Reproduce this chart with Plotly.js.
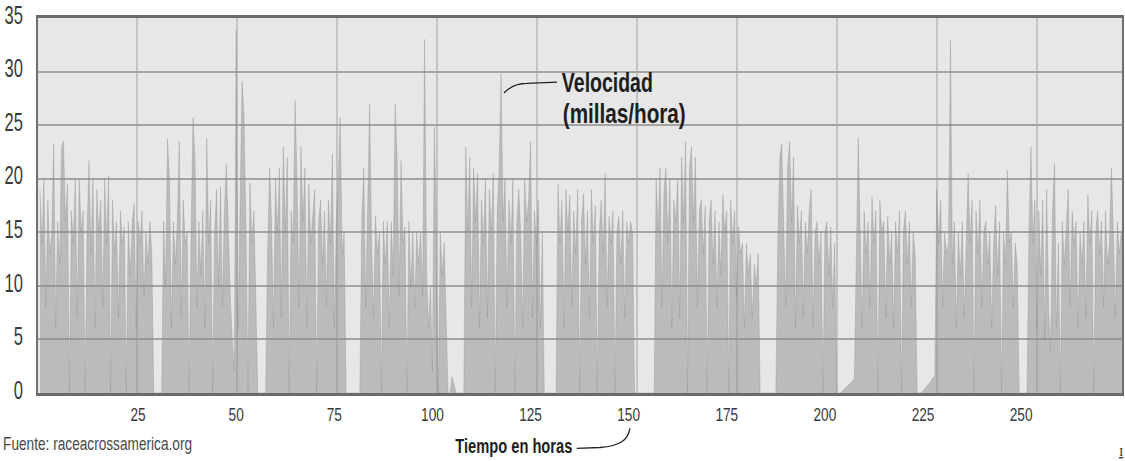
<!DOCTYPE html>
<html>
<head>
<meta charset="utf-8">
<script src="https://cdn.plot.ly/plotly-3.0.1.min.js"></script>
<style>
  html, body { margin: 0; padding: 0; background: #ffffff; }
  #chart { width: 1125px; height: 461px; }
</style>
</head>
<body>
<div id="chart"></div>
<script>
const ride1 = [19,14,20,8,18,13,15,23.3,6,16, 12,23,23.5,16,19.5,0,17,14,20,7, 20,15,17,0,15,21.7,13,20,6,19, 15,18,8,20,14,20.3,0,18,13,16, 7,17,14,15.5,0,16,11,16,17.7,6, 16,14,17,9,15,12,16,13];
const stop1 = [0,0,0,0,0];
const ride2 = [16,10,23.7,20,6,16,12,16,23.5,7, 18,14,15,0,15,25.7,22,8,16,11, 17,6,23.8,14,18,0,15,19,10,19.2, 8,17,21.4,14,9,5,2,33.8,6,18, 29.1,25.7,15,0,19.6,14,17,9];
const stop2 = [0,0,0,0,0];
const ride3 = [13,21,16,6,20,15,21,7,23,15, 22,0,17,14,27.3,20,8,23,16,21, 6,19.5,14,17,19,0,16,18,12,17, 8,18,14,22.3,6,16,20,25.7,13,15];
const stop3 = [0,0,0,0,0,0,0,0];
const ride4 = [16,21,8,18,27,14,7,16.5,13,15, 0,16,12,16,6,16,11,27,22,9, 21.7,14,15.5,0,16,10,15,8,15,12, 15,9,33,11.7,6,10,2,24.8,15,0, 15,11,14,7];
const stop4 = [0,0,1.5,0.8,0,0,0,0,0];
const ride5 = [23,15,22,8,21,16,20.5,6,18,14, 20,7,19,15,20.5,0,17,21,29.8,16, 20,8,18,14,20,0,16,19,15,6, 20,16,18,23.5,7,17,14,18,6,15];
const stop5 = [0,0,0,0,0,0,0];
const ride6 = [19.5,14,18,6,19,15,18.5,8,17,13, 19,0,16,18.6,12,17,7,19,14,17.5, 0,15,18,13,20.5,8,16.5,14,17,0, 15,16.5,12,17,7,16,14,16,15];
const stop6 = [0,0,0,0,0,0,0,0,0,0,0];
const ride7 = [20,15,21,8,19,21,14,20,6,18, 16,20,7,22,16,23.5,0,21,23,16, 22,8,17,18,13,17.5,0,16,18,12, 17,8,16,11,18.5,15,17,0,18,14, 17,9,15.5,13,14,6,14,11,13,7, 12,10,13];
const stop7 = [0,0,0,0,0,0,0,0,0];
const ride8 = [14,22,23.3,16,8,21,23.5,16,22,6, 17.5,14,17,7,16,13,17,19,6,15, 16,12,15,0,15,16,11,15.5,8,14];
const stop8 = [0,0,0,0.2,0.4,0.6,0.8,1,1.1,1.3];
const ride9 = [12,23.8,15,6,17,13,16,8,18.3,14, 17,0,18,15,16,7,16.5,12,15,6, 16,13,17,0,15,17,12,16,8,15, 13];
const stop9 = [0,0,0,0.2,0.4,0.6,0.9,1.1,1.4,1.6];
const ride10 = [19,14,18,8,15,13,14,32.9,12,16, 6,15,11,16,7,14,20.5,14,18,0, 17,13,18,8,15,16,12,15,6,14, 17.5,11,16,0,15,12,20.8,14,15,8, 14,12];
const stop10 = [0,0,0,0,0];
const ride11 = [15,23,14,18,6,17,11,18,5,19, 8,4,17,21.4,6,14,0,16,12,15, 19,8,17,14,16,6,15,12,16,7, 18.5,14,17,0,15,17,13,16,8,17, 12,14,21,15,7,16,13,15,13];

const speed = [].concat(ride1, stop1, ride2, stop2, ride3, stop3, ride4, stop4,
  ride5, stop5, ride6, stop6, ride7, stop7, ride8, stop8, ride9, stop9,
  ride10, stop10, ride11);
const sampleStep = 0.5; // hours between samples
const hours = speed.map((_, i) => i * sampleStep);

const xTickVals = [25, 50, 75, 100, 125, 150, 175, 200, 225, 250];
const yTickVals = [0, 5, 10, 15, 20, 25, 30, 35];

const labelSpeed1 = 'Velocidad';
const labelSpeed2 = '(millas/hora)';
const labelTime = 'Tiempo en horas';
const labelSource = 'Fuente: raceacrossamerica.org';

const sans = 'Liberation Sans, Arial, sans-serif';

// vertical guide lines of the original picture (every 100 px of the plot)
const plotLeft = 38, plotWidth = 1084;
const vShapes = [];
for (let k = 0; k < 10; k++) {
  const xp = (99 + 100 * k) / plotWidth;
  vShapes.push({type: 'line', xref: 'paper', yref: 'paper', x0: xp, x1: xp, y0: 0, y1: 1,
    layer: 'below', line: {color: '#b9b9b9', width: 1.5}});
}

const trace = {
  type: 'scatter', mode: 'lines', x: hours, y: speed,
  fill: 'tozeroy', fillcolor: 'rgba(140,140,140,0.48)',
  line: {color: 'rgba(135,135,135,0.5)', width: 0.6},
  hoverinfo: 'skip', showlegend: false
};

const layout = {
  width: 1125, height: 461,
  margin: {l: plotLeft, r: 3, t: 18, b: 68},
  paper_bgcolor: '#ffffff', plot_bgcolor: '#e7e7e7',
  showlegend: false,
  xaxis: {
    range: [-0.5, 275.7], tickmode: 'array', tickvals: xTickVals,
    showgrid: false, zeroline: false, showline: true, mirror: true,
    linecolor: '#6b6b6b', linewidth: 3, ticks: '',
    tickfont: {family: sans, size: 18, color: '#3a3a3a'}, ticklabelstandoff: 3
  },
  yaxis: {
    range: [0, 35], tickmode: 'array', tickvals: yTickVals,
    showgrid: true, gridcolor: '#a4a4a4', gridwidth: 2, zeroline: false,
    showline: true, mirror: true, linecolor: '#707070', linewidth: 2, ticks: '',
    tickfont: {family: sans, size: 25, color: '#3a3a3a'}, ticklabelstandoff: 8,
    ticklabelshift: -3
  },
  shapes: vShapes.concat([
    {type: 'path', xref: 'paper', yref: 'paper',
     path: 'M0.4299,0.8 Q0.4385,0.8258 0.4508,0.8258 L0.4788,0.829',
     line: {color: '#222222', width: 1.3}},
    {type: 'path', xref: 'paper', yref: 'paper',
     path: 'M0.4970,-0.1475 L0.5185,-0.1453 C0.5369,-0.1413 0.5443,-0.1253 0.5461,-0.0941',
     line: {color: '#222222', width: 1.3}}
  ]),
  annotations: [
    {xref: 'paper', yref: 'paper', x: (607.5 - plotLeft) / plotWidth, y: 0.827, xanchor: 'center', yanchor: 'middle',
     text: labelSpeed1, showarrow: false,
     font: {family: sans, size: 28, weight: 'bold', color: '#1e1e1e'}},
    {xref: 'paper', yref: 'paper', x: (623.5 - plotLeft) / plotWidth, y: 0.745, xanchor: 'center', yanchor: 'middle',
     text: labelSpeed2, showarrow: false,
     font: {family: sans, size: 28, weight: 'bold', color: '#1e1e1e'}},
    {xref: 'paper', yref: 'paper', x: (513.5 - plotLeft) / plotWidth, y: -0.1413, xanchor: 'center', yanchor: 'middle',
     text: labelTime, showarrow: false,
     font: {family: sans, size: 21, weight: 'bold', color: '#1e1e1e'}},
    {xref: 'paper', yref: 'paper', x: (97.5 - plotLeft) / plotWidth, y: -0.136, xanchor: 'center', yanchor: 'middle',
     text: labelSource, showarrow: false,
     font: {family: sans, size: 18, color: '#4a4a4a'}},
    {xref: 'paper', yref: 'paper', x: 0.999, y: -0.157, xanchor: 'center', yanchor: 'middle',
     text: '<u>I</u>', showarrow: false,
     font: {family: 'Liberation Serif, serif', size: 13, color: '#333333'}}
  ]
};

// The reference uses a condensed typeface; squeeze the real text horizontally.
const textWidths = {};
textWidths[labelSpeed1] = 91;
textWidths[labelSpeed2] = 123;
textWidths[labelTime] = 117;
textWidths[labelSource] = 189;

function squeeze(t, width) {
  t.setAttribute('textLength', width.toFixed(1));
  t.setAttribute('lengthAdjust', 'spacingAndGlyphs');
}

Plotly.newPlot('chart', [trace], layout, {staticPlot: true, displayModeBar: false}).then(gd => {
  gd.querySelectorAll('.ytick text').forEach(t => squeeze(t, t.getComputedTextLength() * 0.66));
  gd.querySelectorAll('.xtick text').forEach(t => squeeze(t, t.getComputedTextLength() * 0.76));
  gd.querySelectorAll('.annotation text').forEach(t => {
    const w = textWidths[t.textContent];
    if (w) squeeze(t, w);
  });
});
</script>
</body>
</html>
